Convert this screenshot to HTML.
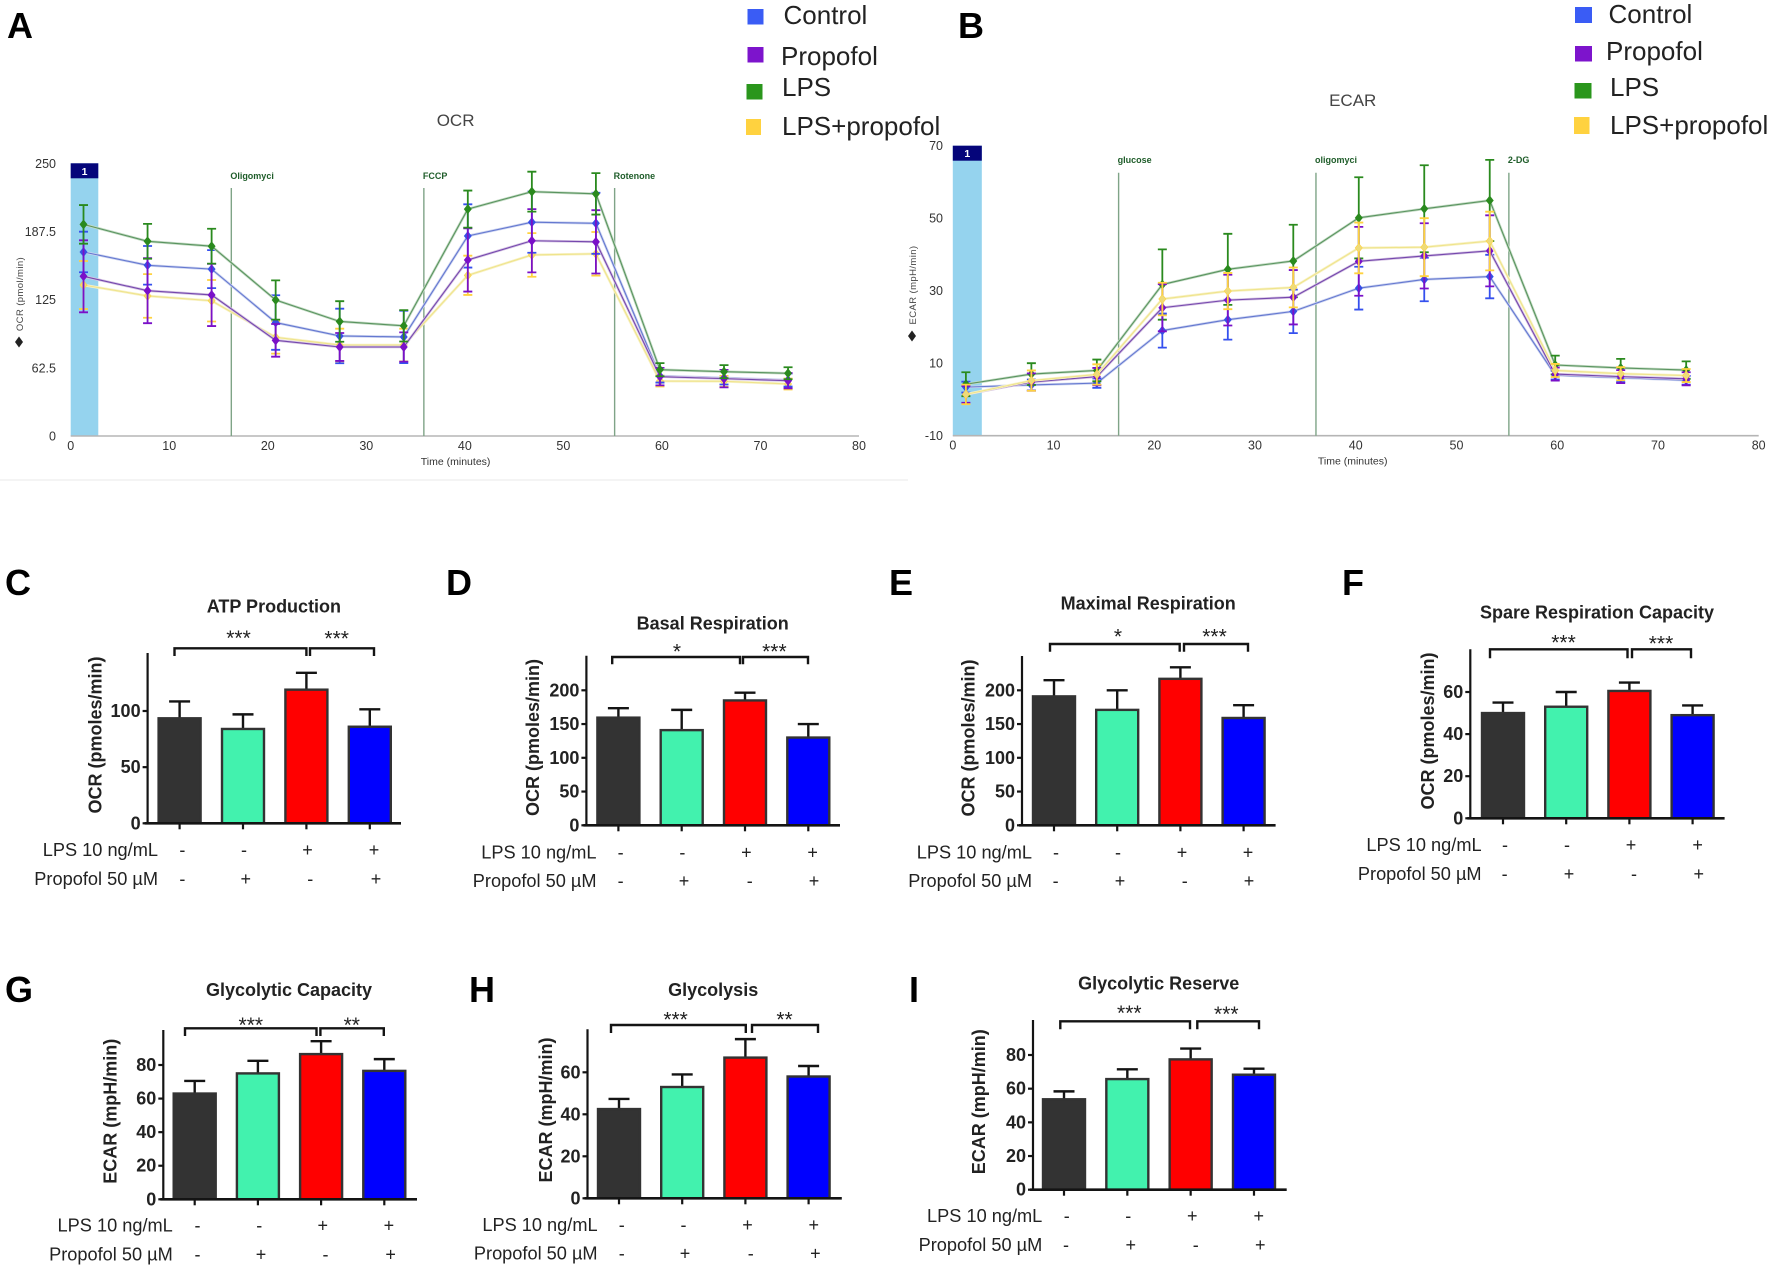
<!DOCTYPE html>
<html lang="en">
<head>
<meta charset="utf-8">
<title>OCR and ECAR panels</title>
<style>
html,body{margin:0;padding:0;background:#fff}
svg{display:block;font-family:"Liberation Sans",Arial,sans-serif;filter:blur(.35px)}
</style>
</head>
<body>
<svg id="fig" xmlns="http://www.w3.org/2000/svg" width="1772" height="1268" viewBox="0 0 1772 1268">
  <rect width="1772" height="1268" fill="#fff"/>
  <line x1="0" y1="480" x2="908" y2="480" stroke="#f1f1f1" stroke-width="1.5"/>
  <g font-size="36" font-weight="bold" fill="#000">
    <text x="7" y="38">A</text>
    <text x="958" y="38">B</text>
    <text x="5" y="595">C</text>
    <text x="446" y="595">D</text>
    <text x="889" y="595">E</text>
    <text x="1342" y="595">F</text>
    <text x="5" y="1002">G</text>
    <text x="469" y="1002">H</text>
    <text x="909" y="1002">I</text>
  </g>
  <g font-size="26" fill="#222">
    <g><rect x="747.5" y="9" width="16" height="15.5" fill="#3a5cf5"/><text x="783.5" y="24">Control</text></g>
    <g><rect x="747.5" y="47" width="16" height="15.5" fill="#7d14cc"/><text x="781" y="65">Propofol</text></g>
    <g><rect x="746.5" y="84" width="16" height="15.5" fill="#2a961c"/><text x="782" y="96">LPS</text></g>
    <g><rect x="746" y="119" width="15" height="16" fill="#ffd23f"/><text x="782" y="135">LPS+propofol</text></g>
  </g>
  <g font-size="26" fill="#222">
    <g><rect x="1575" y="7" width="17" height="16" fill="#3a5cf5"/><text x="1608.5" y="23">Control</text></g>
    <g><rect x="1575" y="46" width="17" height="15.5" fill="#7d14cc"/><text x="1606" y="60">Propofol</text></g>
    <g><rect x="1574.5" y="83" width="17" height="15.5" fill="#2a961c"/><text x="1610" y="96">LPS</text></g>
    <g><rect x="1574" y="117" width="15.5" height="17" fill="#ffd23f"/><text x="1610" y="134">LPS+propofol</text></g>
  </g>
</svg>
<script>
// ---------- line chart data ----------
const timePoints = [1.3, 7.8, 14.3, 20.8, 27.3, 33.8, 40.3, 46.8, 53.3, 59.8, 66.3, 72.8];
const xTicks = [0, 10, 20, 30, 40, 50, 60, 70, 80];

const ocrTicks = [0, 62.5, 125, 187.5, 250];
const ocrControl = [168.7, 156.5, 153, 104, 91.7, 90.8, 183.4, 196, 195, 55, 53.2, 51.3];
const ocrControlErr = [18.6, 17.7, 17.4, 25, 25, 24, 29, 28, 28, 6, 6, 6];
const ocrPropofol = [146.4, 133.2, 129.3, 87.7, 81.6, 81.6, 161.4, 179, 178, 54.4, 52.6, 50.7];
const ocrPropofolErr = [33, 29.8, 28.5, 15, 12.8, 13.4, 29, 29, 29, 8, 8, 7];
const ocrLps = [194, 178.5, 174, 124.7, 105, 101, 208, 224, 222, 60.8, 59, 57.5];
const ocrLpsErr = [17.7, 16, 16, 18, 18.6, 14.4, 17, 18.3, 19, 6, 6, 5.5];
const ocrCombo = [138.4, 128.4, 124, 90.5, 83.4, 83.4, 147.3, 166, 167, 50.4, 50.1, 47.7];
const ocrComboErr = [22, 20, 19, 15, 15, 15, 18, 20, 20, 5, 5, 5];
const ocrInjectionTimes = [16.3, 35.84, 55.2];
const ocrInjectionNames = ["Oligomyci", "FCCP", "Rotenone"];

const ecarTicks = [-10, 10, 30, 50, 70];
const ecarControl = [3.4, 4, 4.5, 19, 22, 24.3, 30.7, 33.1, 33.9, 6.7, 6, 5.3];
const ecarControlErr = [1.5, 1.5, 1.3, 4.7, 5.5, 6, 5.9, 6, 6, 1.2, 1.2, 1.2];
const ecarPropofol = [1.4, 4.8, 6.3, 25.3, 27.4, 28.2, 38.1, 39.6, 41, 7, 6.3, 5.7];
const ecarPropofolErr = [2.3, 2.4, 2.4, 6.5, 7, 7.5, 9.5, 9, 9.8, 1.8, 1.8, 1.8];
const ecarLps = [4.2, 7, 8, 31.7, 35.9, 38.2, 50.1, 52.6, 54.9, 9.5, 8.7, 8.1];
const ecarLpsErr = [3.3, 3, 3, 9.7, 9.8, 10, 11.2, 12, 11.2, 2.6, 2.5, 2.4];
const ecarCombo = [1.4, 5.2, 6.9, 27.7, 29.9, 30.9, 41.8, 42, 43.7, 8, 7.1, 6.6];
const ecarComboErr = [2.7, 2.8, 2.8, 4.5, 5, 5.5, 7, 8, 8.1, 1.8, 1.8, 1.8];
const ecarInjectionTimes = [16.46, 36.05, 55.2];
const ecarInjectionNames = ["glucose", "oligomyci", "2-DG"];

// ---------- bar chart data ----------
const lpsSigns = ["-", "-", "+", "+"];
const propofolSigns = ["-", "+", "-", "+"];

const atpValues = [93.5, 84, 119, 86];
const atpErrors = [15, 13, 15, 15.5];
const atpTicks = [0, 50, 100];
const basalValues = [159.5, 141, 185, 130];
const basalErrors = [14, 30, 11.5, 20];
const basalTicks = [0, 50, 100, 150, 200];
const maximalValues = [191, 171, 217, 159];
const maximalErrors = [24, 29, 17, 19];
const maximalTicks = [0, 50, 100, 150, 200];
const spareValues = [50, 53, 60.5, 49];
const spareErrors = [5, 7, 4, 4.6];
const spareTicks = [0, 20, 40, 60];
const capacityValues = [63, 75, 86.5, 76.5];
const capacityErrors = [7.5, 7.5, 7.7, 7];
const capacityTicks = [0, 20, 40, 60, 80];
const glycolysisValues = [42.5, 53, 67, 58];
const glycolysisErrors = [4.8, 6, 8.8, 5];
const glycolysisTicks = [0, 20, 40, 60];
const reserveValues = [53.7, 65.7, 77.4, 68.3];
const reserveErrors = [4.7, 5.8, 6.4, 3.6];
const reserveTicks = [0, 20, 40, 60, 80];

// ---------- helpers ----------
const SVGNS = "http://www.w3.org/2000/svg";
const fig = document.getElementById("fig");
function mk(parent, tag, attrs, text) {
  const el = document.createElementNS(SVGNS, tag);
  for (const k in attrs) el.setAttribute(k, attrs[k]);
  if (text !== undefined) el.textContent = text;
  parent.appendChild(el);
  return el;
}
function slug(s) { return String(s).toLowerCase().replace(/[^a-z0-9]+/g, "-").replace(/^-|-$/g, ""); }

// ---------- line panels ----------
function drawLinePanel(cfg) {
  const g = mk(fig, "g", {});
  
  
  const xS = t => cfg.x0 + t * (cfg.x80 - cfg.x0) / 80;
  const yS = v => cfg.yBase - (v - cfg.vMin) * (cfg.yBase - cfg.yTop) / (cfg.vMax - cfg.vMin);

  const band = mk(g, "rect", {x: xS(0), y: cfg.yTop, width: xS(cfg.bandEnd) - xS(0), height: cfg.yBase - cfg.yTop, fill: "#95d3ee"});
  
  
  const hdr = mk(g, "rect", {x: xS(0), y: cfg.yTop, width: xS(cfg.bandEnd) - xS(0), height: 15, fill: "#05057a"});
  
  
  const hdrText = mk(g, "text", {x: (xS(0) + xS(cfg.bandEnd)) / 2, y: cfg.yTop + 11.5, "font-size": 10.5, "font-weight": "bold", fill: "#fff", "text-anchor": "middle"}, "1");
  
  

  const xAxis = mk(g, "line", {x1: xS(0), x2: xS(80), y1: cfg.yBase, y2: cfg.yBase, stroke: "#b5b5b5", "stroke-width": 1.6});
  
  

  xTicks.forEach(t => {
    const lab = mk(g, "text", {x: xS(t), y: cfg.yBase + 14, "font-size": 12.5, fill: "#333", "text-anchor": "middle"}, t);
    
    
  });
  cfg.ticks.forEach(v => {
    const lab = mk(g, "text", {x: cfg.tickRight, y: yS(v) + 4.5, "font-size": 12.5, fill: "#333", "text-anchor": "end"}, v);
    
    
  });

  const xTitle = mk(g, "text", {x: cfg.titleX, y: cfg.yBase + 29, "font-size": 10.5, fill: "#333", "text-anchor": "middle"}, "Time (minutes)");
  
  
  const title = mk(g, "text", {x: cfg.titleX, y: cfg.titleY, "font-size": 17, fill: "#444", "text-anchor": "middle"}, cfg.title);
  
  
  const yTitle = mk(g, "text", {x: 0, y: 0, "font-size": 9.5, fill: "#444", "letter-spacing": ".4", transform: "translate(" + cfg.yTitleX + "," + cfg.yTitleY + ") rotate(-90)", "text-anchor": "middle"}, cfg.yTitle);
  
  
  const yMark = mk(g, "path", {d: "M" + (cfg.yTitleX - 8) + " " + cfg.diamondY + "l4 -5.5 4 5.5 -4 5.5z", fill: "#222"});
  
  

  cfg.injectTimes.forEach((t, i) => {
    const ln = mk(g, "line", {x1: xS(t), x2: xS(t), y1: cfg.injectTop, y2: cfg.yBase, stroke: "#7fa487", "stroke-width": 1.4});
    
    
    const lab = mk(g, "text", {x: xS(t) - 1, y: cfg.injectLabelY, "font-size": 9, "font-weight": "bold", fill: "#1f5d2a"}, cfg.injectNames[i]);
    
    
  });

  cfg.series.forEach(s => {
    const sg = mk(g, "g", {});
    
    
    const pts = s.values.map((v, i) => xS(timePoints[i]) + "," + yS(v)).join(" ");
    const halo = mk(sg, "polyline", {points: pts, fill: "none", stroke: s.halo, "stroke-width": 2.6});
    
    
    const line = mk(sg, "polyline", {points: pts, fill: "none", stroke: s.line, "stroke-width": 1.1});
    
    
    s.values.forEach((v, i) => {
      const x = xS(timePoints[i]);
      const hi = yS(v + s.errors[i]), lo = yS(v - s.errors[i]);
      const eb = mk(sg, "path", {d: "M" + x + " " + hi + "V" + lo + "M" + (x - 4.5) + " " + hi + "h9M" + (x - 4.5) + " " + lo + "h9", fill: "none", stroke: s.color, "stroke-width": 1.8});
      
      
      const y = yS(v);
      const mark = mk(sg, "path", {d: "M" + x + " " + (y - 4.5) + "l3.6 4.5 -3.6 4.5 -3.6 -4.5z", fill: s.marker, stroke: s.color, "stroke-width": .6});
      
      
    });
  });
}

const seriesStyle = {
  control: {name: "control", color: "#3550ee", line: "#6478d0", halo: "#cdd4f0", marker: "#3a4fe0"},
  propofol: {name: "propofol", color: "#7a10c8", line: "#7548ad", halo: "#d6c4e4", marker: "#7a10c8"},
  lps: {name: "lps", color: "#2a8a1e", line: "#5a9460", halo: "#c4dbc4", marker: "#2a8a1e"},
  combo: {name: "lps-propofol", color: "#ffd23f", line: "#efe48c", halo: "#f8f2c8", marker: "#eedb7a"}
};

drawLinePanel({
  id: "ocr", title: "OCR", yTitle: "OCR (pmol/min)", x0: 70.7, x80: 859, yBase: 436, yTop: 163.3, vMin: 0, vMax: 250, bandEnd: 2.8,
  tickRight: 56, titleX: 455.6, titleY: 126, yTitleX: 23, yTitleY: 294, diamondY: 342,
  ticks: ocrTicks, injectTimes: ocrInjectionTimes, injectNames: ocrInjectionNames, injectTop: 188, injectLabelY: 179,
  series: [
    Object.assign({values: ocrCombo, errors: ocrComboErr}, seriesStyle.combo),
    Object.assign({values: ocrControl, errors: ocrControlErr}, seriesStyle.control),
    Object.assign({values: ocrPropofol, errors: ocrPropofolErr}, seriesStyle.propofol),
    Object.assign({values: ocrLps, errors: ocrLpsErr}, seriesStyle.lps)
  ]
});
drawLinePanel({
  id: "ecar", title: "ECAR", yTitle: "ECAR (mpH/min)", x0: 952.8, x80: 1758.7, yBase: 435.7, yTop: 145.7, vMin: -10, vMax: 70, bandEnd: 2.88,
  tickRight: 943, titleX: 1352.7, titleY: 106, yTitleX: 916, yTitleY: 285, diamondY: 336,
  ticks: ecarTicks, injectTimes: ecarInjectionTimes, injectNames: ecarInjectionNames, injectTop: 172.7, injectLabelY: 163,
  series: [
    Object.assign({values: ecarControl, errors: ecarControlErr}, seriesStyle.control),
    Object.assign({values: ecarLps, errors: ecarLpsErr}, seriesStyle.lps),
    Object.assign({values: ecarPropofol, errors: ecarPropofolErr}, seriesStyle.propofol),
    Object.assign({values: ecarCombo, errors: ecarComboErr}, seriesStyle.combo)
  ]
});

// ---------- bar panels ----------
const barFills = ["#333333", "#42f2ae", "#ff0000", "#0000ff"];

function drawBarPanel(p) {
  const g = mk(fig, "g", {});
  
  
  const yS = v => p.base - v * (p.base - p.refY) / p.refV;
  const ink = "#141414";

  const title = mk(g, "text", {x: p.titleX, y: p.titleY, "font-size": 18, "font-weight": "bold", fill: "#222", "text-anchor": "middle", "dominant-baseline": "central"}, p.title);
  
  

  const yTitle = mk(g, "text", {x: 0, y: 0, "font-size": 18, "font-weight": "bold", fill: "#222", transform: "translate(" + p.yTitleX + "," + p.yTitleY + ") rotate(-90)", "text-anchor": "middle", "dominant-baseline": "central"}, p.yTitle);
  
  

  p.values.forEach((v, i) => {
    const cx = p.bars[0] + i * p.barStep;
    const top = yS(v), errTop = yS(v + p.errors[i]);
    const eb = mk(g, "path", {d: "M" + cx + " " + top + "V" + errTop + "M" + (cx - 10.5) + " " + errTop + "h21", fill: "none", stroke: ink, "stroke-width": 2.4});
    
    
    const bar = mk(g, "rect", {x: cx - 21, y: top, width: 42, height: p.base - top, fill: barFills[i], stroke: "#333", "stroke-width": 2.4});
    
    
    const tick = mk(g, "line", {x1: cx, x2: cx, y1: p.base, y2: p.base + 6, stroke: ink, "stroke-width": 2.2});
    
    
  });

  const yAxis = mk(g, "line", {x1: p.axisX, x2: p.axisX, y1: p.axisTop, y2: p.base, stroke: ink, "stroke-width": 2.2});
  
  
  const xAxis = mk(g, "line", {x1: p.axisX - 3, x2: p.axisEnd, y1: p.base, y2: p.base, stroke: ink, "stroke-width": 2.6});
  
  

  p.ticks.forEach(v => {
    const y = yS(v);
    const tk = mk(g, "line", {x1: p.axisX - 5, x2: p.axisX, y1: y, y2: y, stroke: ink, "stroke-width": 2.2});
    
    
    const lab = mk(g, "text", {x: p.axisX - 7, y: y, "font-size": 18, "font-weight": "bold", fill: "#222", "text-anchor": "end", "dominant-baseline": "central"}, v);
    
    
  });

  p.brackets.forEach(b => {
    const br = mk(g, "path", {d: "M" + b[0] + " " + b[3] + "V" + b[2] + "H" + b[1] + "V" + b[3], fill: "none", stroke: ink, "stroke-width": 2.4});
    
    
  });
  p.stars.forEach(s => {
    const st = mk(g, "text", {x: s[0], y: s[1] + 11, "font-size": 21, fill: "#222", "text-anchor": "middle"}, s[2]);
    
    
  });

  const lpsLab = mk(g, "text", {x: p.rowRight, y: p.row1, "font-size": 18.2, fill: "#222", "text-anchor": "end", "dominant-baseline": "central"}, "LPS 10 ng/mL");
  
  
  const propLab = mk(g, "text", {x: p.rowRight, y: p.row2, "font-size": 18.2, fill: "#222", "text-anchor": "end", "dominant-baseline": "central"}, "Propofol 50 µM");
  
  
  lpsSigns.forEach((s, i) => {
    const t = mk(g, "text", {x: p.sign1[i], y: p.row1, "font-size": 18, fill: "#222", "text-anchor": "middle", "dominant-baseline": "central"}, s);
    
    
  });
  propofolSigns.forEach((s, i) => {
    const t = mk(g, "text", {x: p.sign2[i], y: p.row2, "font-size": 18, fill: "#222", "text-anchor": "middle", "dominant-baseline": "central"}, s);
    
    
  });
}

const OCRT = "OCR (pmoles/min)", ECART = "ECAR (mpH/min)";
drawBarPanel({title: "ATP Production", yTitle: OCRT, values: atpValues, errors: atpErrors, ticks: atpTicks,
  axisX: 147.6, axisTop: 653, axisEnd: 401, base: 823.3, refY: 711, refV: 100, bars: [179.6], barStep: 63.4,
  titleX: 273.9, titleY: 606.7, yTitleX: 95.4, yTitleY: 735, rowRight: 158, row1: 850, row2: 879,
  sign1: [182.4, 244, 307.5, 374], sign2: [182.4, 245.8, 310.3, 376],
  brackets: [[174.5, 306.4, 648.3, 656], [310, 374, 648.3, 656]], stars: [[238.5, 634, "***"], [336.7, 634.7, "***"]]});
drawBarPanel({title: "Basal Respiration", yTitle: OCRT, values: basalValues, errors: basalErrors, ticks: basalTicks,
  axisX: 586.4, axisTop: 655.7, axisEnd: 840, base: 825.3, refY: 690.3, refV: 200, bars: [618.4], barStep: 63.3,
  titleX: 712.7, titleY: 623.3, yTitleX: 533, yTitleY: 737.5, rowRight: 596.5, row1: 852.3, row2: 881,
  sign1: [620.6, 682.4, 746.4, 812.6], sign2: [620.6, 684, 749.7, 814],
  brackets: [[612.2, 740, 657, 664.3], [743, 808, 657, 664.3]], stars: [[677, 647.3, "*"], [774.4, 647.3, "***"]]});
drawBarPanel({title: "Maximal Respiration", yTitle: OCRT, values: maximalValues, errors: maximalErrors, ticks: maximalTicks,
  axisX: 1022, axisTop: 656, axisEnd: 1275.6, base: 825.3, refY: 690.3, refV: 200, bars: [1054], barStep: 63.2,
  titleX: 1148.2, titleY: 603.3, yTitleX: 968.7, yTitleY: 738, rowRight: 1032, row1: 852.3, row2: 881,
  sign1: [1056, 1118, 1182, 1248], sign2: [1055.6, 1120, 1184.7, 1249],
  brackets: [[1050, 1179.7, 644, 651.7], [1184, 1248, 644, 651.7]], stars: [[1118, 632.3, "*"], [1214.5, 632.3, "***"]]});
drawBarPanel({title: "Spare Respiration Capacity", yTitle: OCRT, values: spareValues, errors: spareErrors, ticks: spareTicks,
  axisX: 1470.3, axisTop: 649.3, axisEnd: 1724.6, base: 818.3, refY: 692, refV: 60, bars: [1503], barStep: 63.2,
  titleX: 1597, titleY: 612.3, yTitleX: 1428, yTitleY: 731, rowRight: 1481.6, row1: 845, row2: 874,
  sign1: [1505, 1567, 1631, 1697.6], sign2: [1504.6, 1569, 1634, 1698.7],
  brackets: [[1490, 1627.5, 649.3, 658.3], [1632, 1691, 649.3, 658.3]], stars: [[1563.5, 638.3, "***"], [1661, 639.7, "***"]]});
drawBarPanel({title: "Glycolytic Capacity", yTitle: ECART, values: capacityValues, errors: capacityErrors, ticks: capacityTicks,
  axisX: 163.3, axisTop: 1030, axisEnd: 417, base: 1199.3, refY: 1065, refV: 80, bars: [194.7], barStep: 63.2,
  titleX: 289, titleY: 990, yTitleX: 110.5, yTitleY: 1111.3, rowRight: 172.8, row1: 1225.7, row2: 1254.3,
  sign1: [197.5, 259.3, 322.7, 388.9], sign2: [197.5, 261, 325.5, 390.6],
  brackets: [[185, 316.5, 1028.3, 1036], [320.4, 383.8, 1028.3, 1036]], stars: [[250.8, 1021, "***"], [351.8, 1021, "**"]]});
drawBarPanel({title: "Glycolysis", yTitle: ECART, values: glycolysisValues, errors: glycolysisErrors, ticks: glycolysisTicks,
  axisX: 587.5, axisTop: 1029.3, axisEnd: 841.8, base: 1198.3, refY: 1072.3, refV: 60, bars: [619], barStep: 63.2,
  titleX: 713.2, titleY: 990, yTitleX: 546, yTitleY: 1110, rowRight: 597.6, row1: 1225, row2: 1253.7,
  sign1: [621.8, 683.5, 747.5, 813.7], sign2: [621.8, 685, 750.8, 815.4],
  brackets: [[611, 745.8, 1025, 1033], [752, 818, 1025, 1033]], stars: [[675.6, 1015.3, "***"], [784.5, 1015.3, "**"]]});
drawBarPanel({title: "Glycolytic Reserve", yTitle: ECART, values: reserveValues, errors: reserveErrors, ticks: reserveTicks,
  axisX: 1033, axisTop: 1020, axisEnd: 1286.7, base: 1189.7, refY: 1055, refV: 80, bars: [1064], barStep: 63.33,
  titleX: 1158.7, titleY: 983.3, yTitleX: 979, yTitleY: 1101.7, rowRight: 1042.3, row1: 1216, row2: 1245,
  sign1: [1066.7, 1128.3, 1192.3, 1258.7], sign2: [1066, 1130.7, 1195.7, 1260.3],
  brackets: [[1060.3, 1190, 1021.3, 1029.3], [1197.3, 1259, 1021.3, 1029.3]], stars: [[1129.3, 1009, "***"], [1226.3, 1010, "***"]]});
</script>
</body>
</html>
